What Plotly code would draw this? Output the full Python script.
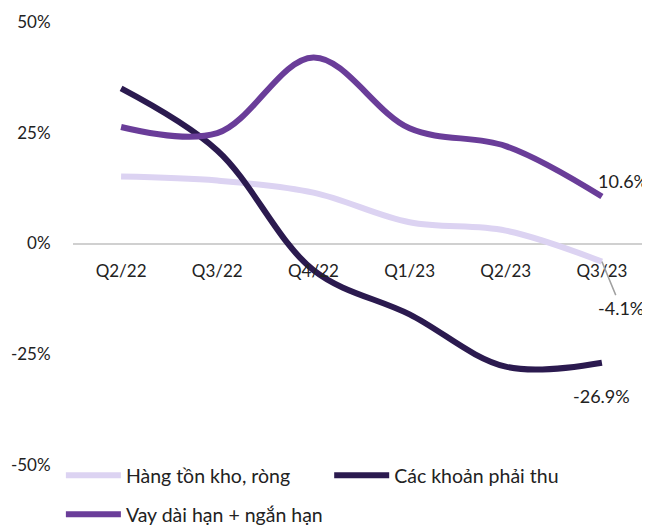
import plotly.graph_objects as go

quarters = ["Q2/22", "Q3/22", "Q4/22", "Q1/23", "Q2/23", "Q3/23"]
hang_ton_kho = [15.1, 14.2, 11.5, 4.8, 2.9, -4.1]
cac_khoan_phai_thu = [35.0, 21.0, -6.0, -16.0, -27.8, -26.9]
vay = [26.3, 24.9, 42.0, 26.0, 22.0, 10.6]
y_ticks = [-50, -25, 0, 25, 50]
y_tick_labels = ["-50%", "-25%", "0%", "25%", "50%"]

FONT = "Lato"
c_light = "#DCD3F2"
c_dark = "#2B1A4F"
c_purple = "#6A3D99"

fig = go.Figure()
fig.add_trace(go.Scatter(x=quarters, y=hang_ton_kho, name="Hàng tồn kho, ròng", mode="lines",
                         line=dict(color=c_light, width=6, shape="spline", smoothing=1), legend="legend"))
fig.add_trace(go.Scatter(x=quarters, y=cac_khoan_phai_thu, name="Các khoản phải thu", mode="lines",
                         line=dict(color=c_dark, width=6, shape="spline", smoothing=1), legend="legend2"))
fig.add_trace(go.Scatter(x=quarters, y=vay, name="Vay dài hạn + ngắn hạn", mode="lines",
                         line=dict(color=c_purple, width=6, shape="spline", smoothing=1), legend="legend3"))

last = quarters[-1]
fig.add_annotation(x=last, y=vay[-1], text=f"{vay[-1]:.1f}%", showarrow=False,
                   xshift=21, yshift=16, font=dict(family=FONT, size=18, color="#222"))
fig.add_annotation(x=last, y=hang_ton_kho[-1], text=f"{hang_ton_kho[-1]:.1f}%", showarrow=True,
                   arrowhead=0, arrowwidth=1.5, arrowcolor="#A0A0A0", ax=19, ay=46,
                   font=dict(family=FONT, size=18, color="#222"))
fig.add_annotation(x=last, y=cac_khoan_phai_thu[-1], text=f"{cac_khoan_phai_thu[-1]:.1f}%", showarrow=False,
                   yshift=-33, font=dict(family=FONT, size=18, color="#222"))

leg_common = dict(orientation="h", xanchor="left", yanchor="top", itemwidth=55,
                  font=dict(family=FONT, size=19.5, color="#222"), bgcolor="rgba(0,0,0,0)")

fig.update_layout(
    width=642, height=517,
    margin=dict(l=65, r=0, t=14, b=60, autoexpand=False),
    paper_bgcolor="white", plot_bgcolor="white",
    font=dict(family=FONT, size=17, color="#222"),
    showlegend=True,
    xaxis=dict(type="category", range=[-0.5, 5.5], anchor="free", position=0.5,
               showgrid=False, showline=False, zeroline=False,
               ticks="outside", ticklen=12, tickcolor="rgba(0,0,0,0)",
               tickfont=dict(family=FONT, size=17, color="#222")),
    yaxis=dict(range=[-50, 50], tickvals=y_ticks, ticktext=y_tick_labels,
               showgrid=False, zeroline=True, zerolinecolor="#D0D0D0", zerolinewidth=2,
               ticks="outside", ticklen=18, tickcolor="rgba(0,0,0,0)",
               tickfont=dict(family=FONT, size=17, color="#222")),
    legend=dict(x=-0.021, y=0.02, **leg_common),
    legend2=dict(x=0.444, y=0.02, **leg_common),
    legend3=dict(x=-0.021, y=-0.068, **leg_common),
)

fig.write_html("out.html")
